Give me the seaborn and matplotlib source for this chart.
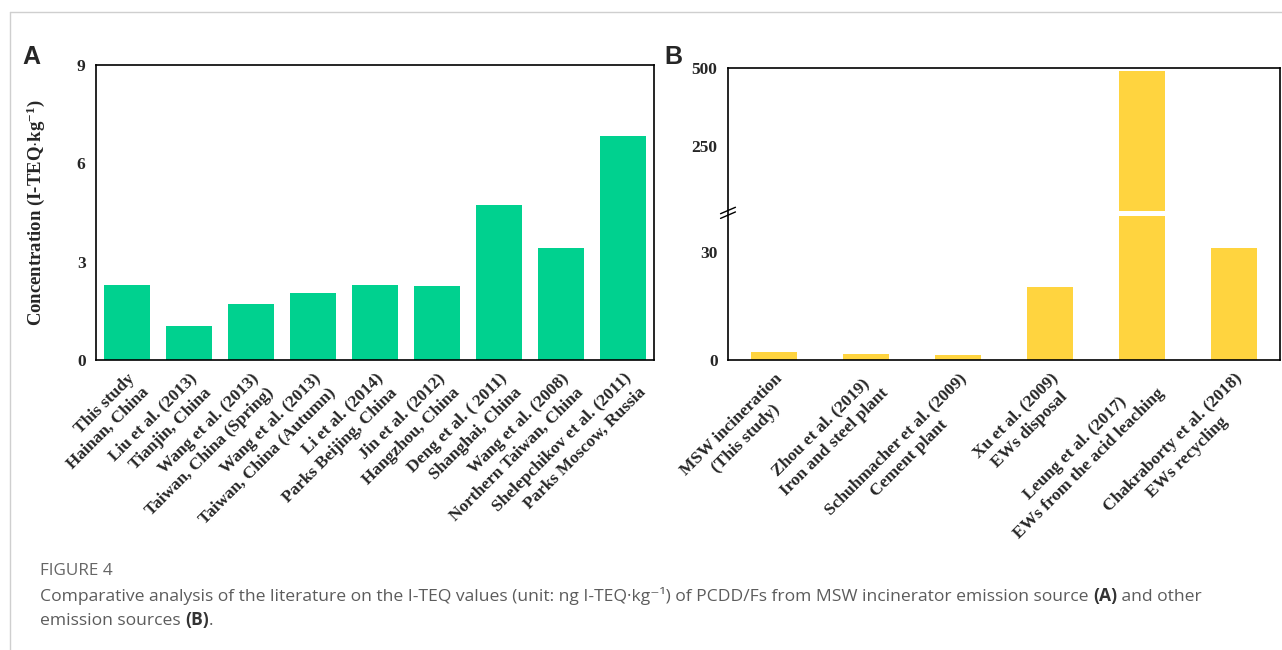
import matplotlib
matplotlib.use("Agg")
import matplotlib.pyplot as plt
import seaborn as sns
import pandas as pd
from matplotlib.lines import Line2D
from matplotlib.ticker import FixedLocator

# ---- Panel A: MSW incinerator emission source ----
refs_a = ["This study", "Liu et al. (2013)", "Wang et al. (2013)", "Wang et al. (2013)",
          "Li et al. (2014)", "Jin et al. (2012)", "Deng et al. ( 2011)",
          "Wang et al. (2008)", "Shelepchikov et al. (2011)"]
sites_a = ["Hainan, China", "Tianjin, China", "Taiwan, China (Spring)",
           "Taiwan, China (Autumn)", "Parks Beijing, China", "Hangzhou, China",
           "Shanghai, China", "Northern Taiwan, China", "Parks Moscow, Russia"]
values_a = [2.30, 1.05, 1.72, 2.05, 2.30, 2.25, 4.72, 3.42, 6.82]

# ---- Panel B: other emission sources ----
refs_b = ["MSW incineration", "Zhou et al. (2019)", "Schuhmacher et al. (2009)",
          "Xu et al. (2009)", "Leung et al. (2017)", "Chakraborty et al. (2018)"]
sources_b = ["(This study)", "Iron and steel plant", "Cement plant", "EWs disposal",
             "EWs from the acid leaching", "EWs recycling"]
values_b = [2.3, 1.6, 1.3, 20.4, 491.0, 31.1]

GREEN = "#00D18F"
YELLOW = "#FFD43F"
SERIF = "Liberation Serif"

sns.set_style("white")
plt.rcParams["font.family"] = ["Liberation Serif", "DejaVu Serif"]
plt.rcParams["mathtext.fontset"] = "custom"
plt.rcParams["mathtext.rm"] = "Liberation Serif:bold"
plt.rcParams["mathtext.it"] = "Liberation Serif:italic:bold"
plt.rcParams["mathtext.bf"] = "Liberation Serif:bold"

W, H = 1282, 650
fig = plt.figure(figsize=(W / 100, H / 100), dpi=100)
fig.patch.set_facecolor("white")


def rect(l, t, r, b):
    return [l / W, 1 - b / H, (r - l) / W, (b - t) / H]


TICK_FS = 12.5
tick_kw = dict(direction="out", width=1.1, color="black")


def style_ticks(ax):
    ax.tick_params(which="major", length=4.5, labelsize=TICK_FS, pad=3, **tick_kw)
    ax.tick_params(which="minor", length=2.5, **tick_kw)
    for t in ax.get_yticklabels():
        t.set_fontweight("bold")
        t.set_fontfamily(SERIF)


def style_xlabels(ax, labels, ma):
    ax.set_xticks(range(len(labels)))
    ax.set_xticklabels(labels, rotation=45, ha="right", va="top",
                       rotation_mode="anchor", multialignment=ma,
                       linespacing=1.35, fontsize=TICK_FS,
                       fontweight="bold", fontfamily=SERIF)


# ================= Panel A =================
labels_a = [f"{r}\n{s}" for r, s in zip(refs_a, sites_a)]
df_a = pd.DataFrame({"label": labels_a, "value": values_a})

axA = fig.add_axes(rect(96, 65, 654, 360))
sns.barplot(data=df_a, x="label", y="value", color=GREEN, saturation=1,
            width=0.73, linewidth=0, ax=axA)
axA.set_xlim(-0.5, len(values_a) - 0.5)
axA.set_ylim(0, 9)
axA.set_yticks([0, 3, 6, 9])
axA.yaxis.set_minor_locator(FixedLocator([1.5, 4.5, 7.5]))
axA.xaxis.set_minor_locator(FixedLocator([i + 0.5 for i in range(len(values_a) - 1)]))
axA.set_xlabel("")
for sp in axA.spines.values():
    sp.set_visible(True)
    sp.set_linewidth(1.2)
    sp.set_color("black")
style_xlabels(axA, labels_a, "right")
style_ticks(axA)
axA.set_ylabel(r"Concentration (I-TEQ$\cdot$kg$^{-1}$)", fontsize=13.5,
               fontweight="bold", fontfamily=SERIF)
axA.yaxis.set_label_coords(-0.088, 0.5)

# ================= Panel B (broken y axis) =================
labels_b = [f"{r}\n{s}" for r, s in zip(refs_b, sources_b)]
df_b = pd.DataFrame({"label": labels_b, "value": values_b})

frame = fig.add_axes(rect(728, 68, 1280, 360))
frame.set_xticks([])
frame.set_yticks([])
frame.patch.set_alpha(0)
for sp in frame.spines.values():
    sp.set_visible(True)
    sp.set_linewidth(1.2)
    sp.set_color("black")
frame.set_zorder(5)

lo = fig.add_axes(rect(728, 216, 1280, 360))
hi = fig.add_axes(rect(728, 68, 1280, 211))
for ax in (lo, hi):
    sns.barplot(data=df_b, x="label", y="value", color=YELLOW, saturation=1,
                width=0.49, linewidth=0, ax=ax)
    ax.set_xlim(-0.5, len(values_b) - 0.5)
    ax.patch.set_alpha(0)
    ax.set_xlabel("")
    ax.set_ylabel("")
    for sp in ax.spines.values():
        sp.set_visible(False)

lo.set_ylim(0, 40)
lo.set_yticks([0, 30])
lo.yaxis.set_minor_locator(FixedLocator([15]))
lo.xaxis.set_minor_locator(FixedLocator([i + 0.5 for i in range(len(values_b) - 1)]))
style_xlabels(lo, labels_b, "center")
style_ticks(lo)

hi.set_ylim(40, 500)
hi.set_yticks([250, 500])
hi.yaxis.set_minor_locator(FixedLocator([125, 375]))
hi.tick_params(axis="x", which="both", bottom=False, labelbottom=False)
style_ticks(hi)

# break marks on the left spine
for yc in (0.512, 0.496):
    frame.plot([-0.0135, 0.0135], [yc - 0.011, yc + 0.011], transform=frame.transAxes,
               color="black", lw=1.0, clip_on=False, zorder=10)

# ================= Panel letters =================
fig.text(22 / W, 1 - 57 / H, "A", fontsize=18, fontweight="bold",
         family="Liberation Sans", va="center", ha="left")
fig.text(664 / W, 1 - 57 / H, "B", fontsize=18, fontweight="bold",
         family="Liberation Sans", va="center", ha="left")

# ================= Border lines =================
border = "#cfcfcf"
fig.add_artist(Line2D([10 / W, 10 / W], [0, 1 - 12 / H], transform=fig.transFigure,
                      color=border, lw=1.0))
fig.add_artist(Line2D([10 / W, 1], [1 - 12 / H, 1 - 12 / H], transform=fig.transFigure,
                      color=border, lw=1.0))

# ================= Caption =================
cap = fig.add_axes([0, 0, 1, 1], zorder=-1)
cap.axis("off")
CAP_FAMILY = ["Open Sans", "DejaVu Sans"]
CAP_FS = 12.6
CAP_COLOR = "#5c5c5c"

cap.text(40 / W, 1 - 571 / H, "FIGURE 4", fontsize=CAP_FS - 0.3, family=CAP_FAMILY,
         color="#666666", va="center", ha="left", transform=fig.transFigure)


def rich_line(x_px, y_px, parts):
    prev = None
    for s, bold in parts:
        kw = dict(fontsize=CAP_FS, family=CAP_FAMILY,
                  color="#333333" if bold else CAP_COLOR,
                  fontweight="bold" if bold else "normal")
        if prev is None:
            prev = cap.text(x_px / W, 1 - y_px / H, s, va="bottom", ha="left",
                            transform=fig.transFigure, **kw)
        else:
            prev = cap.annotate(s, xy=(1, 0), xycoords=prev, va="bottom",
                                ha="left", **kw)


rich_line(40, 605, [
    ("Comparative analysis of the literature on the I-TEQ values (unit: ng I-TEQ\u00b7kg\u207b\u00b9) "
     "of PCDD/Fs from MSW incinerator emission source ", False),
    ("(A)", True),
    (" and other", False),
])
rich_line(40, 629, [
    ("emission sources ", False),
    ("(B)", True),
    (".", False),
])

fig.savefig("out.png", dpi=100, facecolor="white")
